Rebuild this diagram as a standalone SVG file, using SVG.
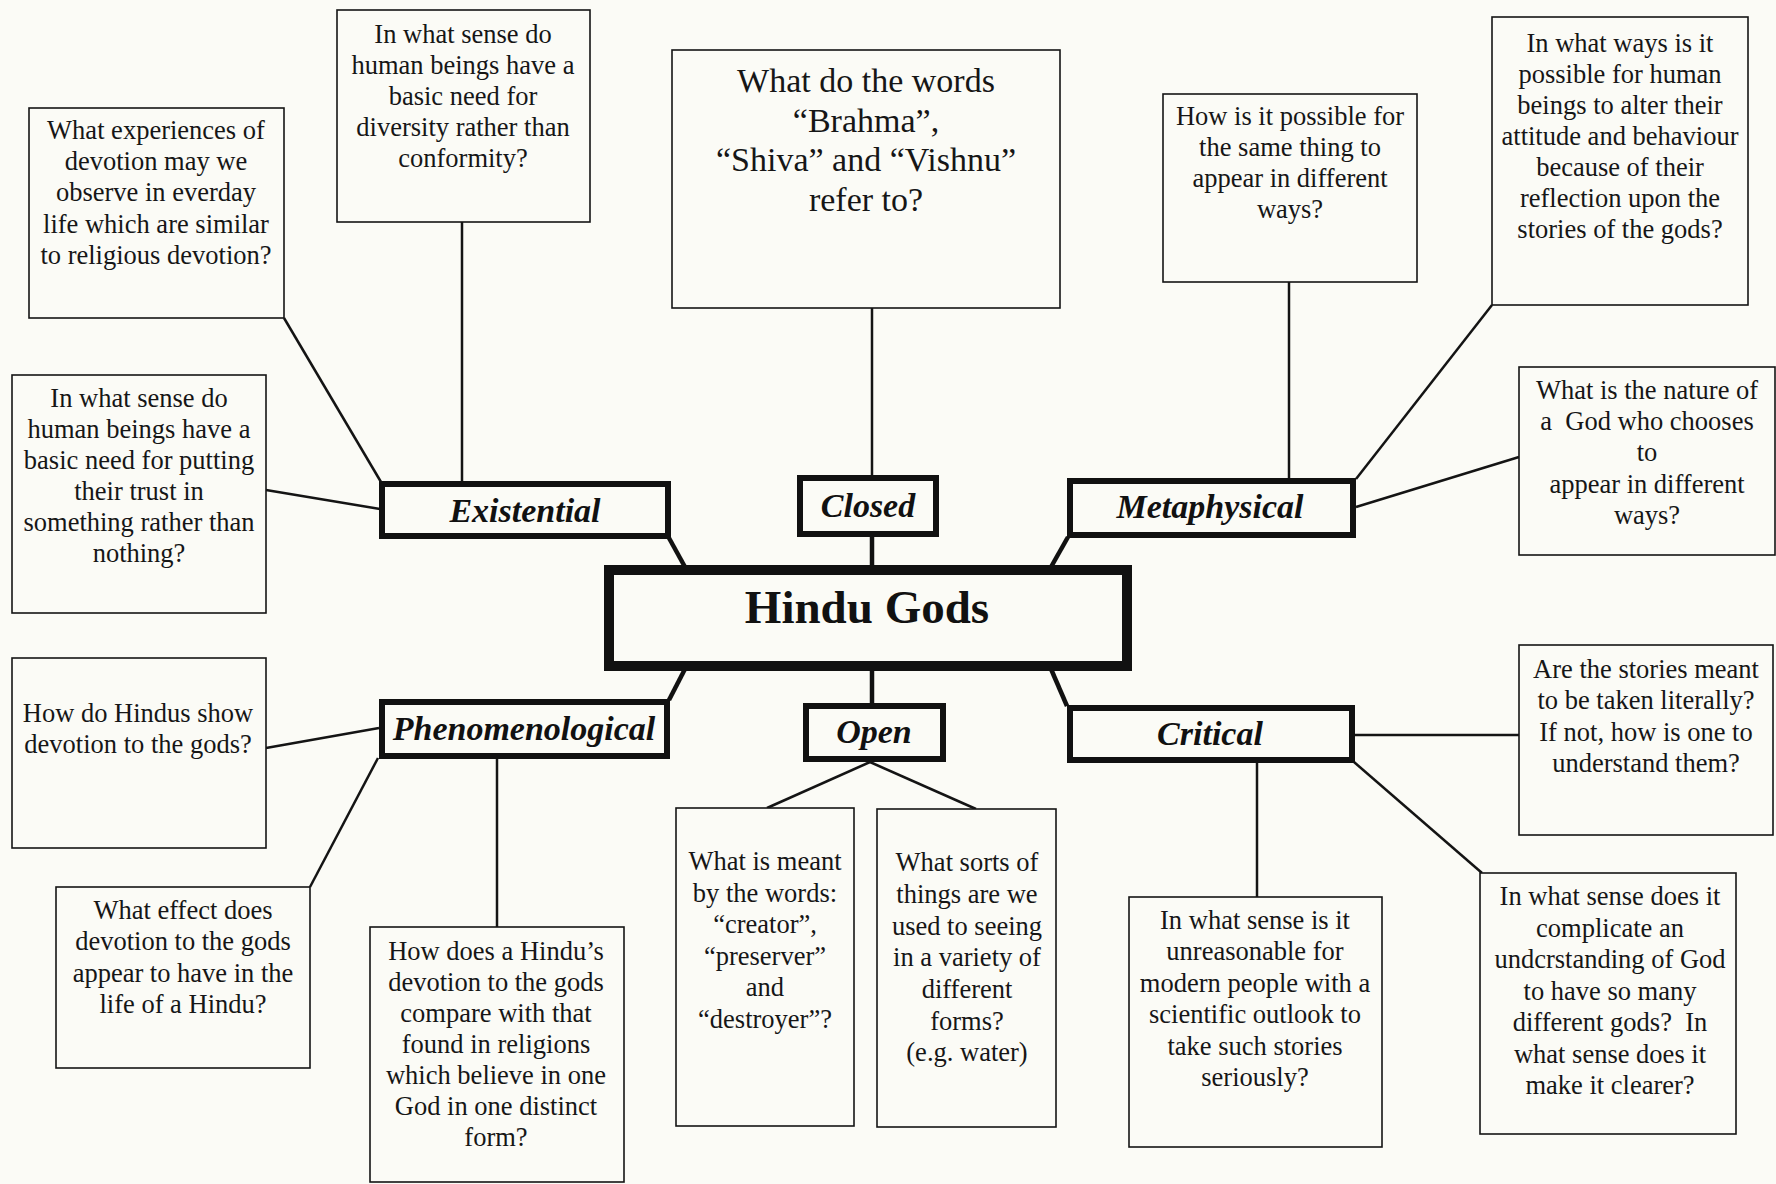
<svg xmlns="http://www.w3.org/2000/svg" width="1776" height="1184" viewBox="0 0 1776 1184">
  <style>
    .bg { fill: #fbfbf6; }
    .box { fill: #fbfbf6; stroke: #141414; stroke-width: 1.6; }
    .cat { fill: #fbfbf6; stroke: #111; stroke-width: 6; }
    .hub { fill: #fbfbf6; stroke: #111; stroke-width: 10; }
    .q { font-family: "Liberation Serif", "Times New Roman", serif; font-size: 26.5px; fill: #161616; text-anchor: middle; }
    .qbig { font-family: "Liberation Serif", "Times New Roman", serif; font-size: 34px; fill: #161616; text-anchor: middle; }
    .catlbl { font-family: "Liberation Serif", "Times New Roman", serif; font-size: 34px; font-weight: bold; font-style: italic; fill: #111; text-anchor: middle; }
    .title { font-family: "Liberation Serif", "Times New Roman", serif; font-size: 47px; font-weight: bold; fill: #111; text-anchor: middle; }
    .thin { stroke: #141414; stroke-width: 2.5; fill: none; }
    .thick { stroke: #111; stroke-width: 4.5; fill: none; }
  </style>

  <rect class="bg" x="0" y="0" width="1776" height="1184"/>

  <!-- connectors -->
  <g id="connectors">
    <line class="thin" x1="284" y1="318" x2="381" y2="482"/>
    <line class="thin" x1="462" y1="222" x2="462" y2="482"/>
    <line class="thin" x1="266" y1="490" x2="380" y2="509"/>
    <line class="thin" x1="872" y1="308" x2="872" y2="476"/>
    <line class="thin" x1="1289" y1="282" x2="1289" y2="479"/>
    <line class="thin" x1="1492" y1="305" x2="1356" y2="479"/>
    <line class="thin" x1="1356" y1="507" x2="1519" y2="457"/>
    <line class="thin" x1="266" y1="748" x2="379" y2="728"/>
    <line class="thin" x1="310" y1="887" x2="378" y2="758"/>
    <line class="thin" x1="497" y1="759" x2="497" y2="927"/>
    <line class="thin" x1="870" y1="762" x2="767" y2="808"/>
    <line class="thin" x1="870" y1="762" x2="976" y2="809"/>
    <line class="thin" x1="1355" y1="735" x2="1519" y2="735"/>
    <line class="thin" x1="1257" y1="762" x2="1257" y2="897"/>
    <line class="thin" x1="1354" y1="762" x2="1482" y2="873"/>

    <line class="thick" x1="669" y1="538" x2="685" y2="567"/>
    <line class="thick" x1="872" y1="536" x2="872" y2="567"/>
    <line class="thick" x1="1068" y1="537" x2="1051" y2="567"/>
    <line class="thick" x1="685" y1="669" x2="669" y2="700"/>
    <line class="thick" x1="872" y1="669" x2="872" y2="704"/>
    <line class="thick" x1="1051" y1="669" x2="1067" y2="706"/>
  </g>

  <!-- central topic -->
  <g id="hindu-gods">
    <rect class="hub" x="609" y="570" width="518" height="96"/>
    <text class="title" x="867" y="623">Hindu Gods</text>
  </g>

  <!-- category boxes -->
  <g id="existential">
    <rect class="cat" x="382" y="484" width="286" height="52"/>
    <text class="catlbl" x="525" y="522">Existential</text>
  </g>
  <g id="closed">
    <rect class="cat" x="800" y="478" width="136" height="56"/>
    <text class="catlbl" x="868" y="517">Closed</text>
  </g>
  <g id="metaphysical">
    <rect class="cat" x="1070" y="481" width="283" height="54"/>
    <text class="catlbl" x="1210" y="518">Metaphysical</text>
  </g>
  <g id="phenomenological">
    <rect class="cat" x="382" y="702" width="285" height="54"/>
    <text class="catlbl" x="524" y="740">Phenomenological</text>
  </g>
  <g id="open">
    <rect class="cat" x="806" y="706" width="137" height="53"/>
    <text class="catlbl" x="874" y="743">Open</text>
  </g>
  <g id="critical">
    <rect class="cat" x="1070" y="708" width="282" height="52"/>
    <text class="catlbl" x="1210" y="745">Critical</text>
  </g>

  <!-- question boxes: existential -->
  <g id="q-everyday-devotion">
    <rect class="box" x="29" y="108" width="255" height="210"/>
    <text class="q" x="156"><tspan x="156" y="139">What experiences of</tspan><tspan x="156" y="170">devotion may we</tspan><tspan x="156" y="201">observe in everday</tspan><tspan x="156" y="233">life which are similar</tspan><tspan x="156" y="264">to religious devotion?</tspan></text>
  </g>
  <g id="q-diversity">
    <rect class="box" x="337" y="10" width="253" height="212"/>
    <text class="q" x="463"><tspan x="463" y="43">In what sense do</tspan><tspan x="463" y="74">human beings have a</tspan><tspan x="463" y="105">basic need for</tspan><tspan x="463" y="136">diversity rather than</tspan><tspan x="463" y="167">conformity?</tspan></text>
  </g>
  <g id="q-trust">
    <rect class="box" x="12" y="375" width="254" height="238"/>
    <text class="q" x="139"><tspan x="139" y="407">In what sense do</tspan><tspan x="139" y="438">human beings have a</tspan><tspan x="139" y="469">basic need for putting</tspan><tspan x="139" y="500">their trust in</tspan><tspan x="139" y="531">something rather than</tspan><tspan x="139" y="562">nothing?</tspan></text>
  </g>

  <!-- closed -->
  <g id="q-names">
    <rect class="box" x="672" y="50" width="388" height="258"/>
    <text class="qbig" x="866"><tspan x="866" y="92">What do the words</tspan><tspan x="866" y="132">“Brahma”,</tspan><tspan x="866" y="171">“Shiva” and “Vishnu”</tspan><tspan x="866" y="211">refer to?</tspan></text>
  </g>

  <!-- metaphysical -->
  <g id="q-same-thing">
    <rect class="box" x="1163" y="94" width="254" height="188"/>
    <text class="q" x="1290"><tspan x="1290" y="125">How is it possible for</tspan><tspan x="1290" y="156">the same thing to</tspan><tspan x="1290" y="187">appear in different</tspan><tspan x="1290" y="218">ways?</tspan></text>
  </g>
  <g id="q-alter-attitude">
    <rect class="box" x="1492" y="17" width="256" height="288"/>
    <text class="q" x="1620"><tspan x="1620" y="52">In what ways is it</tspan><tspan x="1620" y="83">possible for human</tspan><tspan x="1620" y="114">beings to alter their</tspan><tspan x="1620" y="145">attitude and behaviour</tspan><tspan x="1620" y="176">because of their</tspan><tspan x="1620" y="207">reflection upon the</tspan><tspan x="1620" y="238">stories of the gods?</tspan></text>
  </g>
  <g id="q-nature-of-god">
    <rect class="box" x="1519" y="367" width="256" height="188"/>
    <text class="q" x="1647"><tspan x="1647" y="399">What is the nature of</tspan><tspan x="1647" y="430">a&#160; God who chooses</tspan><tspan x="1647" y="461">to</tspan><tspan x="1647" y="493">appear in different</tspan><tspan x="1647" y="524">ways?</tspan></text>
  </g>

  <!-- phenomenological -->
  <g id="q-show-devotion">
    <rect class="box" x="12" y="658" width="254" height="190"/>
    <text class="q" x="138"><tspan x="138" y="722">How do Hindus show</tspan><tspan x="138" y="753">devotion to the gods?</tspan></text>
  </g>
  <g id="q-effect">
    <rect class="box" x="56" y="887" width="254" height="181"/>
    <text class="q" x="183"><tspan x="183" y="919">What effect does</tspan><tspan x="183" y="950">devotion to the gods</tspan><tspan x="183" y="982">appear to have in the</tspan><tspan x="183" y="1013">life of a Hindu?</tspan></text>
  </g>
  <g id="q-compare">
    <rect class="box" x="370" y="927" width="254" height="255"/>
    <text class="q" x="496"><tspan x="496" y="960">How does a Hindu’s</tspan><tspan x="496" y="991">devotion to the gods</tspan><tspan x="496" y="1022">compare with that</tspan><tspan x="496" y="1053">found in religions</tspan><tspan x="496" y="1084">which believe in one</tspan><tspan x="496" y="1115">God in one distinct</tspan><tspan x="496" y="1146">form?</tspan></text>
  </g>

  <!-- open -->
  <g id="q-creator">
    <rect class="box" x="676" y="808" width="178" height="318"/>
    <text class="q" x="765"><tspan x="765" y="870">What is meant</tspan><tspan x="765" y="902">by the words:</tspan><tspan x="765" y="933">“creator”,</tspan><tspan x="765" y="965">“preserver”</tspan><tspan x="765" y="996">and</tspan><tspan x="765" y="1028">“destroyer”?</tspan></text>
  </g>
  <g id="q-forms">
    <rect class="box" x="877" y="809" width="179" height="318"/>
    <text class="q" x="967"><tspan x="967" y="871">What sorts of</tspan><tspan x="967" y="903">things are we</tspan><tspan x="967" y="935">used to seeing</tspan><tspan x="967" y="966">in a variety of</tspan><tspan x="967" y="998">different</tspan><tspan x="967" y="1030">forms?</tspan><tspan x="967" y="1061">(e.g. water)</tspan></text>
  </g>

  <!-- critical -->
  <g id="q-literal">
    <rect class="box" x="1519" y="645" width="254" height="190"/>
    <text class="q" x="1646"><tspan x="1646" y="678">Are the stories meant</tspan><tspan x="1646" y="709">to be taken literally?</tspan><tspan x="1646" y="741">If not, how is one to</tspan><tspan x="1646" y="772">understand them?</tspan></text>
  </g>
  <g id="q-unreasonable">
    <rect class="box" x="1129" y="897" width="253" height="250"/>
    <text class="q" x="1255"><tspan x="1255" y="929">In what sense is it</tspan><tspan x="1255" y="960">unreasonable for</tspan><tspan x="1255" y="992">modern people with a</tspan><tspan x="1255" y="1023">scientific outlook to</tspan><tspan x="1255" y="1055">take such stories</tspan><tspan x="1255" y="1086">seriously?</tspan></text>
  </g>
  <g id="q-complicate">
    <rect class="box" x="1480" y="873" width="256" height="261"/>
    <text class="q" x="1610"><tspan x="1610" y="905">In what sense does it</tspan><tspan x="1610" y="937">complicate an</tspan><tspan x="1610" y="968">undcrstanding of God</tspan><tspan x="1610" y="1000">to have so many</tspan><tspan x="1610" y="1031">different gods?&#160; In</tspan><tspan x="1610" y="1063">what sense does it</tspan><tspan x="1610" y="1094">make it clearer?</tspan></text>
  </g>
</svg>
